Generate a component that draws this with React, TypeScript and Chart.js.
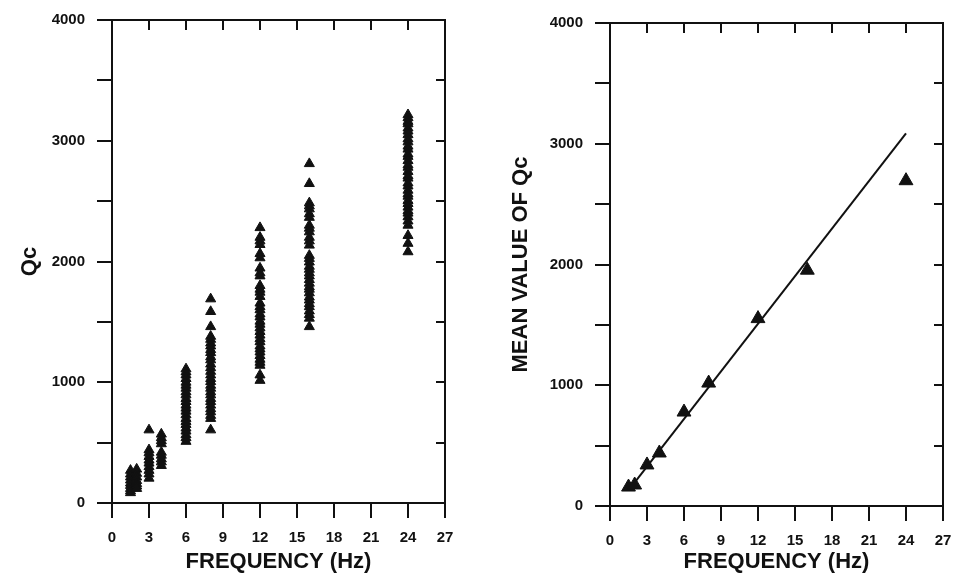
import React, { useEffect, useRef } from "react";
import { Chart, registerables } from "chart.js";

Chart.register(...registerables);

const FONT = "'Liberation Sans', Arial, Helvetica, sans-serif";
const INK = "#111111";

// axis ticks
const xMin = 0;
const xMax = 27;
const xStep = 3;
const yMin = 0;
const yMax = 4000;
const yStep = 500;
const yLabelEvery = 1000;

// left panel: individual Qc estimates per frequency band (Hz)
const freqBands = [1.5, 2, 3, 4, 6, 8, 12, 16, 24];
const qcAt1_5 = [270, 240, 215, 190, 165, 145, 120, 100, 85];
const qcAt2 = [280, 245, 215, 185, 160, 140, 120];
const qcAt3 = [605, 440, 415, 385, 355, 330, 300, 270, 240, 205];
const qcAt4 = [570, 540, 515, 490, 420, 395, 365, 340, 310];
const qcAt6 = [1110, 1085, 1060, 1030, 1000, 975, 950, 920, 895, 865, 840, 810, 785, 760, 730, 700, 675, 650, 620, 595, 565, 540, 510];
const qcAt8 = [1690, 1585, 1460, 1380, 1355, 1325, 1300, 1270, 1245, 1210, 1185, 1150, 1120, 1090, 1060, 1030, 1005, 975, 950, 920, 895, 865, 840, 810, 780, 755, 725, 700, 605];
const qcAt12 = [2280, 2200, 2170, 2140, 2065, 2030, 1945, 1905, 1880, 1800, 1770, 1745, 1710, 1655, 1625, 1600, 1565, 1540, 1505, 1480, 1450, 1420, 1390, 1360, 1335, 1300, 1275, 1250, 1220, 1190, 1165, 1140, 1060, 1015];
const qcAt16 = [2810, 2645, 2485, 2460, 2435, 2395, 2365, 2300, 2275, 2245, 2200, 2170, 2135, 2050, 2025, 1995, 1960, 1935, 1905, 1880, 1850, 1820, 1790, 1770, 1740, 1705, 1680, 1650, 1625, 1590, 1560, 1530, 1460];
const qcAt24 = [3215, 3190, 3160, 3140, 3105, 3080, 3050, 3015, 2990, 2955, 2930, 2890, 2870, 2835, 2800, 2780, 2745, 2710, 2690, 2650, 2625, 2590, 2560, 2540, 2505, 2480, 2450, 2420, 2400, 2370, 2335, 2300, 2215, 2150, 2080];
const qcColumns = [qcAt1_5, qcAt2, qcAt3, qcAt4, qcAt6, qcAt8, qcAt12, qcAt16, qcAt24];

// right panel: mean Qc per band and fitted line
const meanFreq = [1.5, 2, 3, 4, 6, 8, 12, 16, 24];
const meanQc = [157, 174, 340, 439, 778, 1018, 1552, 1953, 2694];
const fitFreq = [1.5, 24];
const fitQc = [130, 3085];

const xTitle = "FREQUENCY (Hz)";
const leftYTitle = "Qc";
const rightYTitle = "MEAN VALUE OF Qc";

const framePlugin = {
  id: "framePlugin",
  afterDraw(chart: any) {
    const { ctx, chartArea: a, scales } = chart;
    const xs = scales.x;
    const ys = scales.y;
    ctx.save();
    ctx.strokeStyle = INK;
    ctx.lineWidth = 2;
    ctx.lineCap = "square";
    ctx.strokeRect(a.left, a.top, a.right - a.left, a.bottom - a.top);
    ctx.beginPath();
    ys.ticks.forEach((t: any) => {
      const py = Math.round(ys.getPixelForValue(t.value));
      ctx.moveTo(a.left - 14, py);
      ctx.lineTo(a.left, py);
      ctx.moveTo(a.right, py);
      ctx.lineTo(a.right - 8, py);
    });
    xs.ticks.forEach((t: any) => {
      const px = Math.round(xs.getPixelForValue(t.value));
      ctx.moveTo(px, a.bottom);
      ctx.lineTo(px, a.bottom + 14);
      ctx.moveTo(px, a.top);
      ctx.lineTo(px, a.top + 9);
    });
    ctx.stroke();
    ctx.restore();
  },
};

function makeScales(yAxisWidth: number, yTitleText: string, yTitlePad: number, xAxisHeight: number) {
  return {
    x: {
      type: "linear",
      min: xMin,
      max: xMax,
      border: { display: false },
      grid: { display: false, drawTicks: false, tickLength: 0 },
      ticks: {
        stepSize: xStep,
        padding: 26,
        color: INK,
        font: { family: FONT, size: 15, weight: "bold" },
        maxRotation: 0,
        autoSkip: false,
      },
      title: {
        display: true,
        text: xTitle,
        color: INK,
        font: { family: FONT, size: 22, weight: "bold", lineHeight: 1.2 },
        padding: { top: 0, bottom: 1 },
      },
      afterFit(scale: any) {
        scale.height = xAxisHeight;
        scale.paddingLeft = 0;
        scale.paddingRight = 0;
        scale.paddingTop = 0;
        scale.paddingBottom = 0;
      },
    },
    y: {
      type: "linear",
      min: yMin,
      max: yMax,
      border: { display: false },
      grid: { display: false, drawTicks: false, tickLength: 0 },
      ticks: {
        stepSize: yStep,
        padding: 27,
        color: INK,
        font: { family: FONT, size: 15, weight: "bold" },
        autoSkip: false,
        callback: (v: any) => (Number(v) % yLabelEvery === 0 ? String(v) : ""),
      },
      title: {
        display: true,
        text: yTitleText,
        color: INK,
        font: { family: FONT, size: 22, weight: "bold", lineHeight: 1.2 },
        padding: { top: yTitlePad, bottom: 0 },
      },
      afterFit(scale: any) {
        scale.width = yAxisWidth;
        scale.paddingLeft = 0;
        scale.paddingRight = 0;
        scale.paddingTop = 0;
        scale.paddingBottom = 0;
      },
    },
  };
}

function leftConfig(): any {
  const points: { x: number; y: number }[] = [];
  freqBands.forEach((f, i) => {
    qcColumns[i].forEach((q) => points.push({ x: f, y: q }));
  });
  return {
    type: "scatter",
    data: {
      datasets: [
        {
          data: points,
          pointStyle: "triangle",
          pointRadius: 5.8,
          backgroundColor: INK,
          borderColor: INK,
          borderWidth: 1,
        },
      ],
    },
    options: {
      responsive: false,
      animation: false,
      layout: { padding: { left: 0, top: 20, right: 30, bottom: 0 } },
      plugins: { legend: { display: false }, tooltip: { enabled: false } },
      scales: makeScales(112, leftYTitle, 17, 73),
    },
    plugins: [framePlugin],
  };
}

function rightConfig(): any {
  return {
    type: "scatter",
    data: {
      datasets: [
        {
          data: meanFreq.map((f, i) => ({ x: f, y: meanQc[i] })),
          pointStyle: "triangle",
          pointRadius: 8,
          backgroundColor: INK,
          borderColor: INK,
          borderWidth: 1,
        },
        {
          type: "line",
          data: fitFreq.map((f, i) => ({ x: f, y: fitQc[i] })),
          showLine: true,
          pointRadius: 0,
          borderColor: INK,
          borderWidth: 2,
          fill: false,
        },
      ],
    },
    options: {
      responsive: false,
      animation: false,
      layout: { padding: { left: 0, top: 23, right: 13, bottom: 0 } },
      plugins: { legend: { display: false }, tooltip: { enabled: false } },
      scales: makeScales(135, rightYTitle, 33, 70),
    },
    plugins: [framePlugin],
  };
}

function Panel(props: { left: number; width: number; make: () => any }) {
  const ref = useRef<HTMLCanvasElement | null>(null);
  useEffect(() => {
    if (!ref.current) return;
    const chart = new Chart(ref.current, props.make());
    return () => chart.destroy();
  }, []);
  return (
    <canvas
      ref={ref}
      width={props.width}
      height={576}
      style={{ position: "absolute", left: props.left, top: 0, width: props.width, height: 576 }}
    />
  );
}

export default function App() {
  return (
    <div style={{ position: "fixed", left: 0, top: 0, width: 956, height: 576, background: "#fff" }}>
      <Panel left={0} width={475} make={leftConfig} />
      <Panel left={475} width={481} make={rightConfig} />
    </div>
  );
}
